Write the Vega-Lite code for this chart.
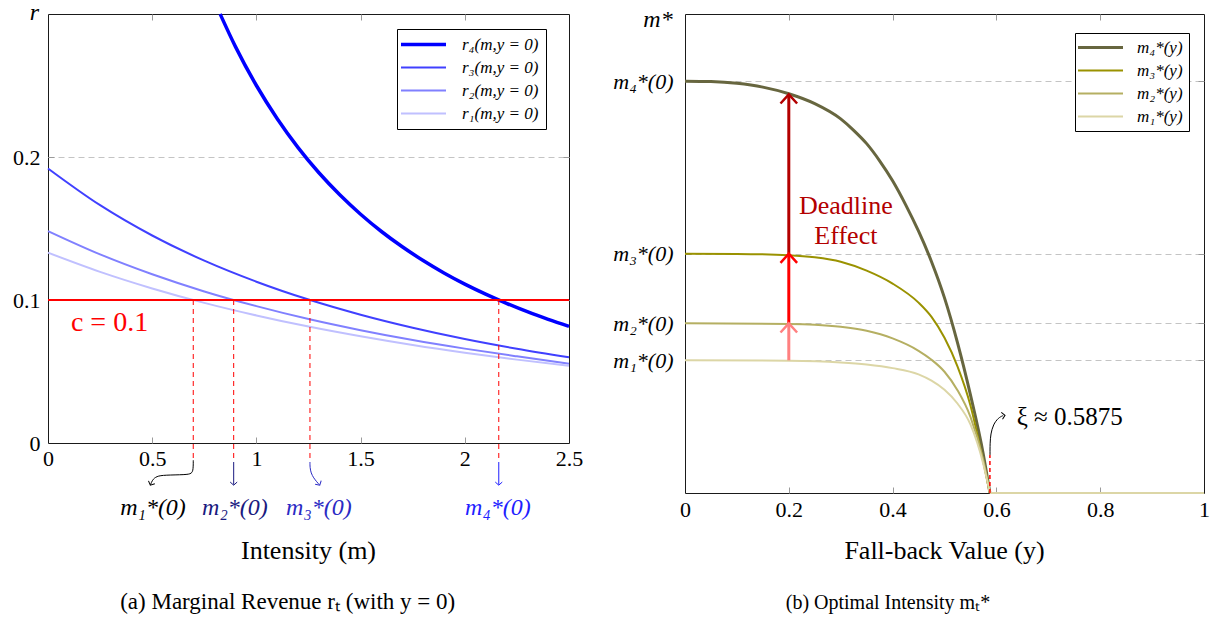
{
  "$schema": "https://vega.github.io/schema/vega-lite/v6.json",
  "padding": {"left": 12, "top": 0, "right": 5, "bottom": 5},
  "bounds": "flush",
  "spacing": 116,
  "resolve": {"scale": {"color": "independent"}, "legend": {"color": "independent"}},
  "config": {
    "font": "Liberation Serif, Times New Roman, serif",
    "view": {"stroke": "#1a1a1a", "strokeWidth": 1},
    "axis": {"labelFont": "Liberation Serif, Times New Roman, serif", "labelFontSize": 22, "labelColor": "black", "tickColor": "#9a9a9a", "tickWidth": 1, "labelFlush": false, "labelOverlap": false, "domain": false},
    "legend": {"labelFont": "Liberation Serif, Times New Roman, serif"},
    "text": {"font": "Liberation Serif, Times New Roman, serif", "fontSize": 22, "color": "black"}
  },
  "hconcat": [
    {
      "width": 521,
      "height": 429,
      "resolve": {"axis": {"x": "independent", "y": "independent"}},
      "layer": [
        {
          "data": {"values": [
            {"series": "r₄(m,y = 0)", "m": 0.826, "r": 0.3},
            {"series": "r₄(m,y = 0)", "m": 0.9, "r": 0.277},
            {"series": "r₄(m,y = 0)", "m": 1.0, "r": 0.25},
            {"series": "r₄(m,y = 0)", "m": 1.1, "r": 0.2268},
            {"series": "r₄(m,y = 0)", "m": 1.2, "r": 0.2066},
            {"series": "r₄(m,y = 0)", "m": 1.3, "r": 0.189},
            {"series": "r₄(m,y = 0)", "m": 1.4, "r": 0.1736},
            {"series": "r₄(m,y = 0)", "m": 1.5, "r": 0.16},
            {"series": "r₄(m,y = 0)", "m": 1.6, "r": 0.1479},
            {"series": "r₄(m,y = 0)", "m": 1.7, "r": 0.1372},
            {"series": "r₄(m,y = 0)", "m": 1.8, "r": 0.1276},
            {"series": "r₄(m,y = 0)", "m": 1.9, "r": 0.1189},
            {"series": "r₄(m,y = 0)", "m": 2.0, "r": 0.1111},
            {"series": "r₄(m,y = 0)", "m": 2.1, "r": 0.1041},
            {"series": "r₄(m,y = 0)", "m": 2.2, "r": 0.0977},
            {"series": "r₄(m,y = 0)", "m": 2.3, "r": 0.0918},
            {"series": "r₄(m,y = 0)", "m": 2.4, "r": 0.0865},
            {"series": "r₄(m,y = 0)", "m": 2.5, "r": 0.0816},
            {"series": "r₃(m,y = 0)", "m": 0, "r": 0.192},
            {"series": "r₃(m,y = 0)", "m": 0.25, "r": 0.1663},
            {"series": "r₃(m,y = 0)", "m": 0.5, "r": 0.1451},
            {"series": "r₃(m,y = 0)", "m": 0.75, "r": 0.1275},
            {"series": "r₃(m,y = 0)", "m": 1.0, "r": 0.1128},
            {"series": "r₃(m,y = 0)", "m": 1.25, "r": 0.1003},
            {"series": "r₃(m,y = 0)", "m": 1.5, "r": 0.0897},
            {"series": "r₃(m,y = 0)", "m": 1.75, "r": 0.0806},
            {"series": "r₃(m,y = 0)", "m": 2.0, "r": 0.0727},
            {"series": "r₃(m,y = 0)", "m": 2.25, "r": 0.0659},
            {"series": "r₃(m,y = 0)", "m": 2.5, "r": 0.0599},
            {"series": "r₂(m,y = 0)", "m": 0, "r": 0.1482},
            {"series": "r₂(m,y = 0)", "m": 0.25, "r": 0.1319},
            {"series": "r₂(m,y = 0)", "m": 0.5, "r": 0.118},
            {"series": "r₂(m,y = 0)", "m": 0.75, "r": 0.106},
            {"series": "r₂(m,y = 0)", "m": 1.0, "r": 0.0957},
            {"series": "r₂(m,y = 0)", "m": 1.25, "r": 0.0867},
            {"series": "r₂(m,y = 0)", "m": 1.5, "r": 0.0789},
            {"series": "r₂(m,y = 0)", "m": 1.75, "r": 0.072},
            {"series": "r₂(m,y = 0)", "m": 2.0, "r": 0.066},
            {"series": "r₂(m,y = 0)", "m": 2.25, "r": 0.0606},
            {"series": "r₂(m,y = 0)", "m": 2.5, "r": 0.0555},
            {"series": "r₁(m,y = 0)", "m": 0, "r": 0.1331},
            {"series": "r₁(m,y = 0)", "m": 0.25, "r": 0.1197},
            {"series": "r₁(m,y = 0)", "m": 0.5, "r": 0.1081},
            {"series": "r₁(m,y = 0)", "m": 0.75, "r": 0.098},
            {"series": "r₁(m,y = 0)", "m": 1.0, "r": 0.0892},
            {"series": "r₁(m,y = 0)", "m": 1.25, "r": 0.0814},
            {"series": "r₁(m,y = 0)", "m": 1.5, "r": 0.0746},
            {"series": "r₁(m,y = 0)", "m": 1.75, "r": 0.0685},
            {"series": "r₁(m,y = 0)", "m": 2.0, "r": 0.0631},
            {"series": "r₁(m,y = 0)", "m": 2.25, "r": 0.0583},
            {"series": "r₁(m,y = 0)", "m": 2.5, "r": 0.054}
          ]},
          "mark": {"type": "line", "interpolate": "monotone"},
          "encoding": {
            "x": {"field": "m", "type": "quantitative", "scale": {"domain": [0, 2.5], "nice": false, "zero": false}, "title": null,
              "axis": {"orient": "bottom", "values": [0, 0.5, 1, 1.5, 2, 2.5], "format": "~g", "tickSize": -6, "labelPadding": 11, "grid": false,
                "tickOpacity": {"condition": {"test": "datum.value === 0 || datum.value === 2.5", "value": 0}, "value": 1}}},
            "y": {"field": "r", "type": "quantitative", "scale": {"domain": [0, 0.3], "nice": false, "zero": false}, "title": null,
              "axis": {"orient": "left", "values": [0, 0.1, 0.2], "format": "~g", "tickSize": -6, "labelPadding": 14, "grid": true, "gridDash": [6, 4], "gridColor": "#c4c4c4",
                "tickOpacity": {"condition": {"test": "datum.value === 0", "value": 0}, "value": 1},
                "gridOpacity": {"condition": {"test": "datum.value === 0", "value": 0}, "value": 1}}},
            "color": {"field": "series", "type": "nominal",
              "scale": {"domain": ["r₄(m,y = 0)", "r₃(m,y = 0)", "r₂(m,y = 0)", "r₁(m,y = 0)"], "range": ["#0000ff", "#4040ff", "#8080ff", "#c0c0ff"]},
              "legend": {"title": null, "orient": "none", "legendX": 349, "legendY": 15, "symbolType": "M-2.25,0L2.25,0", "symbolSize": 400, "symbolOffset": 11, "labelOffset": 30,
                "labelFont": "Liberation Serif, Times New Roman, serif", "labelFontSize": 17, "labelFontStyle": "italic", "labelColor": "black", "padding": 7, "rowPadding": 5,
                "strokeColor": "black", "fillColor": "white", "symbolStrokeWidth": 2,
                "encode": {"symbols": {"update": {"strokeWidth": {"signal": "datum.value === 'r₄(m,y = 0)' ? 3.5 : 2"}}}}}},
            "strokeWidth": {"condition": {"test": "datum.series === 'r₄(m,y = 0)'", "value": 3.5}, "value": 2}
          }
        },
        {
          "data": {"values": [{}]},
          "mark": {"type": "rule", "color": "#ff0000", "strokeWidth": 2},
          "encoding": {
            "x": {"datum": 0, "type": "quantitative", "axis": {"orient": "top", "values": [0.5, 1, 1.5, 2], "labels": false, "tickSize": -6, "grid": false, "title": null}},
            "x2": {"datum": 2.5},
            "y": {"datum": 0.1, "type": "quantitative", "axis": {"orient": "right", "values": [0.1, 0.2], "labels": false, "tickSize": -6, "grid": false, "title": null}}
          }
        },
        {
          "data": {"values": [{"m": 0.697}, {"m": 0.891}, {"m": 1.257}, {"m": 2.163}]},
          "mark": {"type": "rule", "color": "#ff0000", "strokeWidth": 1, "strokeDash": [5, 4]},
          "encoding": {
            "x": {"field": "m", "type": "quantitative", "axis": null},
            "y": {"datum": 0.1, "type": "quantitative", "axis": null},
            "y2": {"datum": -0.0133}
          }
        },
        {
          "data": {"values": [
            {"m": 0.697, "r": -0.0121}, {"m": 0.697, "r": -0.0185}, {"m": 0.69, "r": -0.0215}, {"m": 0.66, "r": -0.0222},
            {"m": 0.56, "r": -0.0224}, {"m": 0.52, "r": -0.0232}, {"m": 0.5, "r": -0.026}, {"m": 0.492, "r": -0.0292}
          ]},
          "mark": {"type": "line", "interpolate": "basis", "color": "black", "strokeWidth": 1},
          "encoding": {
            "x": {"field": "m", "type": "quantitative", "axis": null},
            "y": {"field": "r", "type": "quantitative", "axis": null},
            "order": {"value": null}
          }
        },
        {
          "data": {"values": [
            {"m": 1.257, "r": -0.0133}, {"m": 1.257, "r": -0.017}, {"m": 1.262, "r": -0.021}, {"m": 1.275, "r": -0.0245},
            {"m": 1.29, "r": -0.0272}, {"m": 1.302, "r": -0.0292}
          ]},
          "mark": {"type": "line", "interpolate": "basis", "color": "#2b2bc4", "strokeWidth": 1},
          "encoding": {
            "x": {"field": "m", "type": "quantitative", "axis": null},
            "y": {"field": "r", "type": "quantitative", "axis": null},
            "order": {"value": null}
          }
        },
        {
          "data": {"values": [{}]},
          "mark": {"type": "rule", "color": "#1a1a80", "strokeWidth": 1},
          "encoding": {"x": {"datum": 0.891, "type": "quantitative", "axis": null}, "y": {"datum": -0.0133, "type": "quantitative", "axis": null}, "y2": {"datum": -0.0292}}
        },
        {
          "data": {"values": [{}]},
          "mark": {"type": "rule", "color": "#1f1fff", "strokeWidth": 1},
          "encoding": {"x": {"datum": 2.163, "type": "quantitative", "axis": null}, "y": {"datum": -0.0133, "type": "quantitative", "axis": null}, "y2": {"datum": -0.0292}}
        },
        {
          "data": {"values": [{}]},
          "mark": {"type": "point", "shape": "M-1,-0.9L0,0L1,-0.9", "size": 49, "filled": false, "opacity": 1, "stroke": "black", "strokeWidth": 1, "angle": 25},
          "encoding": {"x": {"datum": 0.491, "type": "quantitative", "axis": null}, "y": {"datum": -0.0295, "type": "quantitative", "axis": null}}
        },
        {
          "data": {"values": [{}]},
          "mark": {"type": "point", "shape": "M-1,-0.9L0,0L1,-0.9", "size": 49, "filled": false, "opacity": 1, "stroke": "#1a1a80", "strokeWidth": 1},
          "encoding": {"x": {"datum": 0.891, "type": "quantitative", "axis": null}, "y": {"datum": -0.0295, "type": "quantitative", "axis": null}}
        },
        {
          "data": {"values": [{}]},
          "mark": {"type": "point", "shape": "M-1,-0.9L0,0L1,-0.9", "size": 49, "filled": false, "opacity": 1, "stroke": "#2b2bc4", "strokeWidth": 1, "angle": -30},
          "encoding": {"x": {"datum": 1.304, "type": "quantitative", "axis": null}, "y": {"datum": -0.0295, "type": "quantitative", "axis": null}}
        },
        {
          "data": {"values": [{}]},
          "mark": {"type": "point", "shape": "M-1,-0.9L0,0L1,-0.9", "size": 49, "filled": false, "opacity": 1, "stroke": "#1f1fff", "strokeWidth": 1},
          "encoding": {"x": {"datum": 2.163, "type": "quantitative", "axis": null}, "y": {"datum": -0.0295, "type": "quantitative", "axis": null}}
        },
        {
          "data": {"values": [{}]},
          "mark": {"type": "text", "text": "m₁*(0)", "fontSize": 24, "fontStyle": "italic", "align": "center", "baseline": "alphabetic", "color": "black"},
          "encoding": {"x": {"datum": 0.504, "type": "quantitative", "axis": null}, "y": {"datum": -0.0506, "type": "quantitative", "axis": null}}
        },
        {
          "data": {"values": [{}]},
          "mark": {"type": "text", "text": "m₂*(0)", "fontSize": 24, "fontStyle": "italic", "align": "center", "baseline": "alphabetic", "color": "#1a1a80"},
          "encoding": {"x": {"datum": 0.897, "type": "quantitative", "axis": null}, "y": {"datum": -0.0506, "type": "quantitative", "axis": null}}
        },
        {
          "data": {"values": [{}]},
          "mark": {"type": "text", "text": "m₃*(0)", "fontSize": 24, "fontStyle": "italic", "align": "center", "baseline": "alphabetic", "color": "#2b2bc4"},
          "encoding": {"x": {"datum": 1.3, "type": "quantitative", "axis": null}, "y": {"datum": -0.0506, "type": "quantitative", "axis": null}}
        },
        {
          "data": {"values": [{}]},
          "mark": {"type": "text", "text": "m₄*(0)", "fontSize": 24, "fontStyle": "italic", "align": "center", "baseline": "alphabetic", "color": "#1f1fff"},
          "encoding": {"x": {"datum": 2.159, "type": "quantitative", "axis": null}, "y": {"datum": -0.0506, "type": "quantitative", "axis": null}}
        },
        {
          "data": {"values": [{}]},
          "mark": {"type": "text", "text": "c = 0.1", "fontSize": 28, "align": "left", "baseline": "alphabetic", "color": "#ff0000"},
          "encoding": {"x": {"datum": 0.11, "type": "quantitative", "axis": null}, "y": {"datum": 0.0781, "type": "quantitative", "axis": null}}
        },
        {
          "data": {"values": [{}]},
          "mark": {"type": "text", "text": "r", "fontSize": 24, "fontStyle": "italic", "align": "center", "baseline": "alphabetic"},
          "encoding": {"x": {"datum": -0.065, "type": "quantitative", "axis": null}, "y": {"datum": 0.2958, "type": "quantitative", "axis": null}}
        },
        {
          "data": {"values": [{}]},
          "mark": {"type": "text", "text": "Intensity (m)", "fontSize": 26, "align": "center", "baseline": "alphabetic"},
          "encoding": {"x": {"datum": 1.25, "type": "quantitative", "axis": null}, "y": {"datum": -0.0809, "type": "quantitative", "axis": null}}
        },
        {
          "data": {"values": [{}]},
          "mark": {"type": "text", "text": "(a)  Marginal Revenue rₜ (with y = 0)", "fontSize": 23, "align": "center", "baseline": "alphabetic"},
          "encoding": {"x": {"datum": 1.15, "type": "quantitative", "axis": null}, "y": {"datum": -0.1159, "type": "quantitative", "axis": null}}
        }
      ]
    },
    {
      "width": 519,
      "height": 479,
      "resolve": {"axis": {"x": "independent", "y": "independent"}},
      "layer": [
        {
          "data": {"values": [
            {"series": "m₄*(y)", "yv": 0, "ms": 2.163},
            {"series": "m₄*(y)", "yv": 0.05, "ms": 2.161},
            {"series": "m₄*(y)", "yv": 0.1, "ms": 2.152},
            {"series": "m₄*(y)", "yv": 0.15, "ms": 2.132},
            {"series": "m₄*(y)", "yv": 0.2, "ms": 2.097},
            {"series": "m₄*(y)", "yv": 0.25, "ms": 2.045},
            {"series": "m₄*(y)", "yv": 0.3, "ms": 1.965},
            {"series": "m₄*(y)", "yv": 0.325, "ms": 1.905},
            {"series": "m₄*(y)", "yv": 0.35, "ms": 1.835},
            {"series": "m₄*(y)", "yv": 0.375, "ms": 1.745},
            {"series": "m₄*(y)", "yv": 0.4, "ms": 1.64},
            {"series": "m₄*(y)", "yv": 0.425, "ms": 1.515},
            {"series": "m₄*(y)", "yv": 0.45, "ms": 1.375},
            {"series": "m₄*(y)", "yv": 0.475, "ms": 1.215},
            {"series": "m₄*(y)", "yv": 0.5, "ms": 1.025},
            {"series": "m₄*(y)", "yv": 0.525, "ms": 0.79},
            {"series": "m₄*(y)", "yv": 0.55, "ms": 0.515},
            {"series": "m₄*(y)", "yv": 0.575, "ms": 0.2},
            {"series": "m₄*(y)", "yv": 0.5875, "ms": 0},
            {"series": "m₃*(y)", "yv": 0, "ms": 1.257},
            {"series": "m₃*(y)", "yv": 0.1, "ms": 1.256},
            {"series": "m₃*(y)", "yv": 0.2, "ms": 1.249},
            {"series": "m₃*(y)", "yv": 0.25, "ms": 1.238},
            {"series": "m₃*(y)", "yv": 0.3, "ms": 1.215},
            {"series": "m₃*(y)", "yv": 0.35, "ms": 1.168},
            {"series": "m₃*(y)", "yv": 0.4, "ms": 1.1},
            {"series": "m₃*(y)", "yv": 0.45, "ms": 1.0},
            {"series": "m₃*(y)", "yv": 0.475, "ms": 0.925},
            {"series": "m₃*(y)", "yv": 0.5, "ms": 0.815},
            {"series": "m₃*(y)", "yv": 0.525, "ms": 0.665},
            {"series": "m₃*(y)", "yv": 0.55, "ms": 0.46},
            {"series": "m₃*(y)", "yv": 0.575, "ms": 0.16},
            {"series": "m₃*(y)", "yv": 0.5875, "ms": 0},
            {"series": "m₂*(y)", "yv": 0, "ms": 0.891},
            {"series": "m₂*(y)", "yv": 0.2, "ms": 0.888},
            {"series": "m₂*(y)", "yv": 0.25, "ms": 0.884},
            {"series": "m₂*(y)", "yv": 0.3, "ms": 0.873},
            {"series": "m₂*(y)", "yv": 0.35, "ms": 0.852},
            {"series": "m₂*(y)", "yv": 0.4, "ms": 0.812},
            {"series": "m₂*(y)", "yv": 0.45, "ms": 0.747},
            {"series": "m₂*(y)", "yv": 0.475, "ms": 0.7},
            {"series": "m₂*(y)", "yv": 0.5, "ms": 0.637},
            {"series": "m₂*(y)", "yv": 0.525, "ms": 0.54},
            {"series": "m₂*(y)", "yv": 0.55, "ms": 0.4},
            {"series": "m₂*(y)", "yv": 0.575, "ms": 0.17},
            {"series": "m₂*(y)", "yv": 0.5875, "ms": 0},
            {"series": "m₁*(y)", "yv": 0, "ms": 0.697},
            {"series": "m₁*(y)", "yv": 0.2, "ms": 0.695},
            {"series": "m₁*(y)", "yv": 0.3, "ms": 0.686},
            {"series": "m₁*(y)", "yv": 0.35, "ms": 0.675},
            {"series": "m₁*(y)", "yv": 0.4, "ms": 0.656},
            {"series": "m₁*(y)", "yv": 0.45, "ms": 0.623},
            {"series": "m₁*(y)", "yv": 0.475, "ms": 0.59},
            {"series": "m₁*(y)", "yv": 0.5, "ms": 0.542},
            {"series": "m₁*(y)", "yv": 0.525, "ms": 0.47},
            {"series": "m₁*(y)", "yv": 0.55, "ms": 0.36},
            {"series": "m₁*(y)", "yv": 0.575, "ms": 0.15},
            {"series": "m₁*(y)", "yv": 0.5875, "ms": 0}
          ]},
          "mark": {"type": "line", "interpolate": "monotone"},
          "encoding": {
            "x": {"field": "yv", "type": "quantitative", "scale": {"domain": [0, 1], "nice": false, "zero": false}, "title": null,
              "axis": {"orient": "bottom", "values": [0, 0.2, 0.4, 0.6, 0.8, 1], "format": "~g", "tickSize": -6, "labelPadding": 12, "grid": false,
                "tickOpacity": {"condition": {"test": "datum.value === 0 || datum.value === 1", "value": 0}, "value": 1}}},
            "y": {"field": "ms", "type": "quantitative", "scale": {"domain": [0, 2.516], "nice": false, "zero": false}, "title": null,
              "axis": {"orient": "left", "values": [0.697, 0.891, 1.257, 2.163], "tickSize": -6, "labelPadding": 18, "labelFontStyle": "italic",
                "labelExpr": "datum.value === 2.163 ? 'm₄*(0)' : datum.value === 1.257 ? 'm₃*(0)' : datum.value === 0.891 ? 'm₂*(0)' : 'm₁*(0)'",
                "grid": true, "gridDash": [6, 4], "gridColor": "#c4c4c4"}},
            "color": {"field": "series", "type": "nominal",
              "scale": {"domain": ["m₄*(y)", "m₃*(y)", "m₂*(y)", "m₁*(y)"], "range": ["#67663f", "#9a9200", "#b5af62", "#dcd6a6"]},
              "legend": {"title": null, "orient": "none", "legendX": 390, "legendY": 19, "symbolType": "M-2.25,0L2.25,0", "symbolSize": 400, "symbolOffset": 11, "labelOffset": 28,
                "labelFont": "Liberation Serif, Times New Roman, serif", "labelFontSize": 17, "labelFontStyle": "italic", "labelColor": "black", "padding": 6, "rowPadding": 5,
                "strokeColor": "black", "fillColor": "white", "symbolStrokeWidth": 2,
                "encode": {"symbols": {"update": {"strokeWidth": {"signal": "datum.value === 'm₄*(y)' ? 3 : 2"}}}}}},
            "strokeWidth": {"condition": {"test": "datum.series === 'm₄*(y)'", "value": 3}, "value": 2}
          }
        },
        {
          "data": {"values": [{}]},
          "mark": {"type": "rule", "color": "#dcd6a6", "strokeWidth": 2},
          "encoding": {
            "x": {"datum": 0.5875, "type": "quantitative", "axis": {"orient": "top", "values": [0.2, 0.4, 0.6, 0.8], "labels": false, "tickSize": -6, "grid": false, "title": null}},
            "x2": {"datum": 1},
            "y": {"datum": 0, "type": "quantitative", "axis": {"orient": "right", "values": [0.697, 0.891, 1.257, 2.163], "labels": false, "tickSize": -6, "grid": false, "title": null}}
          }
        },
        {
          "data": {"values": [{}]},
          "mark": {"type": "rule", "color": "#ff8080", "strokeWidth": 3},
          "encoding": {"x": {"datum": 0.2, "type": "quantitative", "axis": null}, "y": {"datum": 0.697, "type": "quantitative", "axis": null}, "y2": {"datum": 0.889}}
        },
        {
          "data": {"values": [{}]},
          "mark": {"type": "rule", "color": "#ff0000", "strokeWidth": 3},
          "encoding": {"x": {"datum": 0.2, "type": "quantitative", "axis": null}, "y": {"datum": 0.891, "type": "quantitative", "axis": null}, "y2": {"datum": 1.255}}
        },
        {
          "data": {"values": [{}]},
          "mark": {"type": "rule", "color": "#b30000", "strokeWidth": 3},
          "encoding": {"x": {"datum": 0.2, "type": "quantitative", "axis": null}, "y": {"datum": 1.257, "type": "quantitative", "axis": null}, "y2": {"datum": 2.09}}
        },
        {
          "data": {"values": [{}]},
          "mark": {"type": "point", "shape": "M-1,1.1L0,0L1,1.1", "size": 276, "filled": false, "opacity": 1, "stroke": "#ff8080", "strokeWidth": 2.5},
          "encoding": {"x": {"datum": 0.2, "type": "quantitative", "axis": null}, "y": {"datum": 0.891, "type": "quantitative", "axis": null}}
        },
        {
          "data": {"values": [{}]},
          "mark": {"type": "point", "shape": "M-1,1.1L0,0L1,1.1", "size": 276, "filled": false, "opacity": 1, "stroke": "#ff0000", "strokeWidth": 2.5},
          "encoding": {"x": {"datum": 0.2, "type": "quantitative", "axis": null}, "y": {"datum": 1.257, "type": "quantitative", "axis": null}}
        },
        {
          "data": {"values": [{}]},
          "mark": {"type": "point", "shape": "M-1,1.1L0,0L1,1.1", "size": 276, "filled": false, "opacity": 1, "stroke": "#b30000", "strokeWidth": 2.5},
          "encoding": {"x": {"datum": 0.2, "type": "quantitative", "axis": null}, "y": {"datum": 2.094, "type": "quantitative", "axis": null}}
        },
        {
          "data": {"values": [{}]},
          "mark": {"type": "text", "text": "Deadline\nEffect", "lineBreak": "\n", "lineHeight": 30, "fontSize": 26, "align": "center", "baseline": "alphabetic", "color": "#b30000"},
          "encoding": {"x": {"datum": 0.31, "type": "quantitative", "axis": null}, "y": {"datum": 1.467, "type": "quantitative", "axis": null}}
        },
        {
          "data": {"values": [{}]},
          "mark": {"type": "rule", "color": "#ff0000", "strokeWidth": 1.5, "strokeDash": [4, 3]},
          "encoding": {"x": {"datum": 0.5875, "type": "quantitative", "axis": null}, "y": {"datum": 0, "type": "quantitative", "axis": null}, "y2": {"datum": 0.2}}
        },
        {
          "data": {"values": [
            {"yv": 0.5877, "ms": 0.2}, {"yv": 0.5877, "ms": 0.26}, {"yv": 0.589, "ms": 0.31}, {"yv": 0.594, "ms": 0.36},
            {"yv": 0.6037, "ms": 0.395}, {"yv": 0.613, "ms": 0.407}
          ]},
          "mark": {"type": "line", "interpolate": "basis", "color": "black", "strokeWidth": 1},
          "encoding": {
            "x": {"field": "yv", "type": "quantitative", "axis": null},
            "y": {"field": "ms", "type": "quantitative", "axis": null},
            "order": {"value": null}
          }
        },
        {
          "data": {"values": [{}]},
          "mark": {"type": "point", "shape": "M-0.9,-1L0,0L-0.9,1", "size": 49, "filled": false, "opacity": 1, "stroke": "black", "strokeWidth": 1, "angle": -10},
          "encoding": {"x": {"datum": 0.6166, "type": "quantitative", "axis": null}, "y": {"datum": 0.408, "type": "quantitative", "axis": null}}
        },
        {
          "data": {"values": [{}]},
          "mark": {"type": "text", "text": "ξ ≈ 0.5875", "fontSize": 25, "align": "left", "baseline": "alphabetic"},
          "encoding": {"x": {"datum": 0.639, "type": "quantitative", "axis": null}, "y": {"datum": 0.356, "type": "quantitative", "axis": null}}
        },
        {
          "data": {"values": [{}]},
          "mark": {"type": "text", "text": "m*", "fontSize": 24, "fontStyle": "italic", "align": "center", "baseline": "alphabetic"},
          "encoding": {"x": {"datum": -0.052, "type": "quantitative", "axis": null}, "y": {"datum": 2.448, "type": "quantitative", "axis": null}}
        },
        {
          "data": {"values": [{}]},
          "mark": {"type": "text", "text": "Fall-back Value (y)", "fontSize": 26, "align": "center", "baseline": "alphabetic"},
          "encoding": {"x": {"datum": 0.5, "type": "quantitative", "axis": null}, "y": {"datum": -0.346, "type": "quantitative", "axis": null}}
        },
        {
          "data": {"values": [{}]},
          "mark": {"type": "text", "text": "(b)  Optimal Intensity mₜ*", "fontSize": 20, "align": "center", "baseline": "alphabetic"},
          "encoding": {"x": {"datum": 0.391, "type": "quantitative", "axis": null}, "y": {"datum": -0.609, "type": "quantitative", "axis": null}}
        }
      ]
    }
  ]
}
